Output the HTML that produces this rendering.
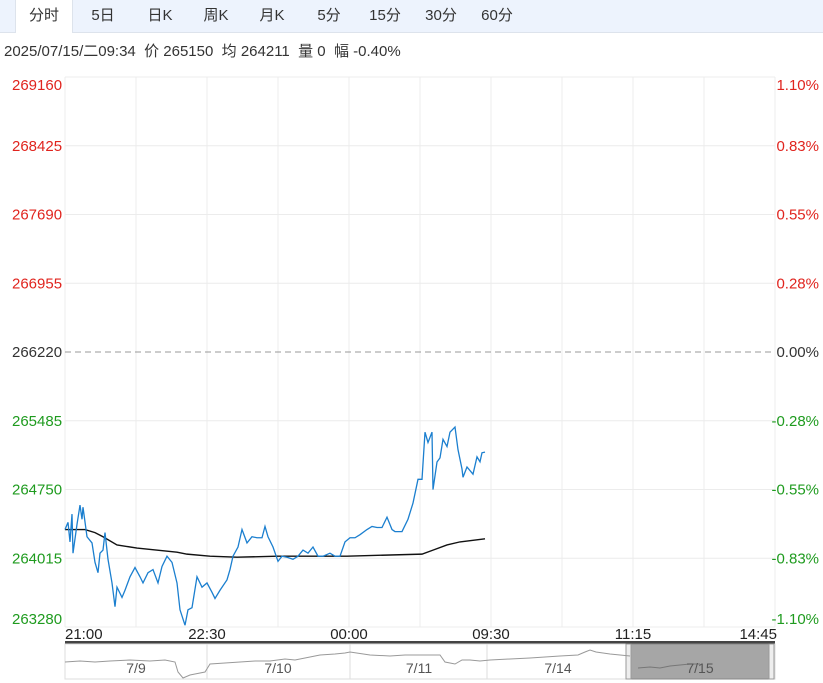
<!DOCTYPE html>
<html><head><meta charset="utf-8">
<style>
body{margin:0;width:823px;height:683px;background:#fff;font-family:"Liberation Sans","Noto Sans CJK SC",sans-serif;overflow:hidden;position:relative}
.tabs{position:absolute;left:0;top:0;width:823px;height:32px;background:#edf3fd;border-bottom:1px solid #dde3ec}
.tab{position:absolute;top:0;height:32px;line-height:31px;font-size:15px;color:#333;text-align:center;width:56px}
.tab.active{background:#fff;border-left:1px solid #dde3ec;border-right:1px solid #dde3ec;height:33px}
.info{position:absolute;left:4px;top:40px;font-size:15px;color:#333;white-space:nowrap}
</style></head><body>
<div class="tabs">
<div class="tab active" style="left:15px">分时</div>
<div class="tab" style="left:75px">5日</div>
<div class="tab" style="left:132px">日K</div>
<div class="tab" style="left:188px">周K</div>
<div class="tab" style="left:244px">月K</div>
<div class="tab" style="left:301px">5分</div>
<div class="tab" style="left:357px">15分</div>
<div class="tab" style="left:413px">30分</div>
<div class="tab" style="left:469px">60分</div>
</div>
<div class="info">2025/07/15/二09:34&nbsp; 价 265150&nbsp; 均 264211&nbsp; 量 0&nbsp; 幅 -0.40%</div>
<svg id="chart" width="823" height="683" style="position:absolute;left:0;top:0"></svg>
<script>
const priceTicks=[269160,268425,267690,266955,266220,265485,264750,264015,263280];
const pctTicks=["1.10%","0.83%","0.55%","0.28%","0.00%","-0.28%","-0.55%","-0.83%","-1.10%"];
const timeLabels=["21:00","22:30","00:00","09:30","11:15","14:45"];
const dateLabels=["7/9","7/10","7/11","7/14","7/15"];
const priceSlots=[0,3,5,7,8,12,15,17,18,22,27,30,33,35,38,40,43,47,50,52,57,60,65,70,75,78,83,88,93,97,102,107,112,115,120,123,127,132,137,142,147,150,155,162,165,168,173,177,182,187,192,197,200,203,208,213,217,222,228,233,238,243,248,253,258,265,270,275,280,285,290,295,302,307,312,317,322,327,330,337,343,348,353,357,360,363,367,368,372,375,378,382,385,390,393,397,398,402,408,412,415,417,420];
const priceValues=[264322,264399,264190,264487,264069,264377,264583,264432,264561,264245,264179,263971,263861,264069,264102,264289,264004,263751,263497,263706,263596,263673,263817,263916,263817,263751,263861,263894,263751,263927,264037,263971,263751,263464,263299,263464,263486,263817,263706,263751,263651,263585,263673,263784,263894,264037,264135,264322,264179,264245,264234,264234,264355,264245,264135,263982,264037,264026,264004,264037,264102,264069,264135,264037,264037,264069,264037,264037,264190,264234,264234,264267,264322,264355,264344,264344,264454,264322,264300,264300,264432,264605,264859,264859,265363,265253,265363,264749,265044,265088,265286,265209,265363,265418,265176,264969,264881,264991,264914,265099,265046,265143,265150];
const avgSlots=[0,20,30,38,52,72,112,122,145,172,212,282,357,368,382,395,420];
const avgValues=[264322,264322,264289,264245,264157,264124,264080,264059,264037,264026,264037,264037,264059,264102,264157,264190,264223];
const NS="http://www.w3.org/2000/svg";
const svg=document.getElementById('chart');
const X0=65,X1=775,Y0=77,Y1=627,SLOTS=710;
const xs=s=>X0+s*(X1-X0)/SLOTS;
const ys=p=>Y0+(priceTicks[0]-p)*(Y1-Y0)/(priceTicks[0]-priceTicks[priceTicks.length-1]);
function mk(tag,attrs,parent){const e=document.createElementNS(NS,tag);for(const k in attrs)e.setAttribute(k,attrs[k]);(parent||svg).appendChild(e);return e;}
const grid=mk('g',{});


for(let i=0;i<=10;i++){const x=X0+i*(X1-X0)/10;mk('line',{x1:x,x2:x,y1:77,y2:627,stroke:'#ececec'},grid);}
const last=priceTicks.length-1;
priceTicks.forEach((p,i)=>{
  const y=ys(p);
  if(i===4){const l=mk('line',{x1:X0,x2:X1,y1:y,y2:y,stroke:'#999','stroke-dasharray':'6,4'},grid);}
  else mk('line',{x1:X0,x2:X1,y1:y,y2:y,stroke:'#ececec'},grid);
  const col=i<4?'#e0241e':(i===4?'#333':'#1f9b1f');
  const ty=i===0?y+13:(i===last?y-3:y+5);
  const t=mk('text',{x:12,y:ty,'font-size':15,fill:col});t.textContent=p;
  
  const r=mk('text',{x:819,y:ty,'font-size':15,fill:col,'text-anchor':'end'});r.textContent=pctTicks[i];
  
});
const avg=mk('polyline',{points:avgSlots.map((s,i)=>xs(s)+','+ys(avgValues[i])).join(' '),fill:'none',stroke:'#111','stroke-width':1.4});


const pl=mk('polyline',{points:priceSlots.map((s,i)=>xs(s)+','+ys(priceValues[i])).join(' '),fill:'none',stroke:'#1b7fcf','stroke-width':1.3});


mk('rect',{x:X0,y:641,width:X1-X0,height:3,fill:'#444'});
timeLabels.forEach((t,i)=>{const x=X0+i*(X1-X0)/5;const anchor=i===0?'start':(i===5?'end':'middle');
  const e=mk('text',{x:i===0?X0:(i===5?X1+2:x),y:639,'font-size':15,fill:'#222','text-anchor':anchor});e.textContent=t;
  });
const nav=mk('g',{});


mk('rect',{x:X0,y:644,width:X1-X0,height:35,fill:'#fff',stroke:'#ddd'},nav);
[207,350,487].forEach(x=>mk('line',{x1:x,x2:x,y1:644,y2:679,stroke:'#ddd'},nav));
mk('rect',{x:630,y:644,width:140,height:35,fill:'#a6a6a6',stroke:'#888'},nav);
mk('rect',{x:626,y:644,width:5,height:35,fill:'#eee',stroke:'#999'},nav);
mk('rect',{x:769,y:644,width:5,height:35,fill:'#eee',stroke:'#999'},nav);
mk('polyline',{points:'65,662 80,661 95,662 110,661 130,660 150,661 165,660 175,662 178,672 183,678 190,675 195,674 205,672 210,664 225,663 240,662 255,661 270,661 285,659 295,660 310,657 320,655 335,654 345,653 350,652 370,655 390,656 405,655 420,655 440,655 445,662 455,664 462,660 470,660 480,661 490,660 510,659 530,658 545,657 560,656 578,655 585,652 590,650 596,652 610,654 620,655 630,656',fill:'none',stroke:'#999','stroke-width':1},nav);
mk('polyline',{points:'638,668 650,667 660,668 670,666 690,664 700,664',fill:'none',stroke:'#777','stroke-width':1},nav);
dateLabels.forEach((d,i)=>{const cx=[136,278,419,558,700][i];const e=mk('text',{x:cx,y:673,'font-size':14,fill:'#555','text-anchor':'middle'},nav);e.textContent=d;
  });
</script>
</body></html>
